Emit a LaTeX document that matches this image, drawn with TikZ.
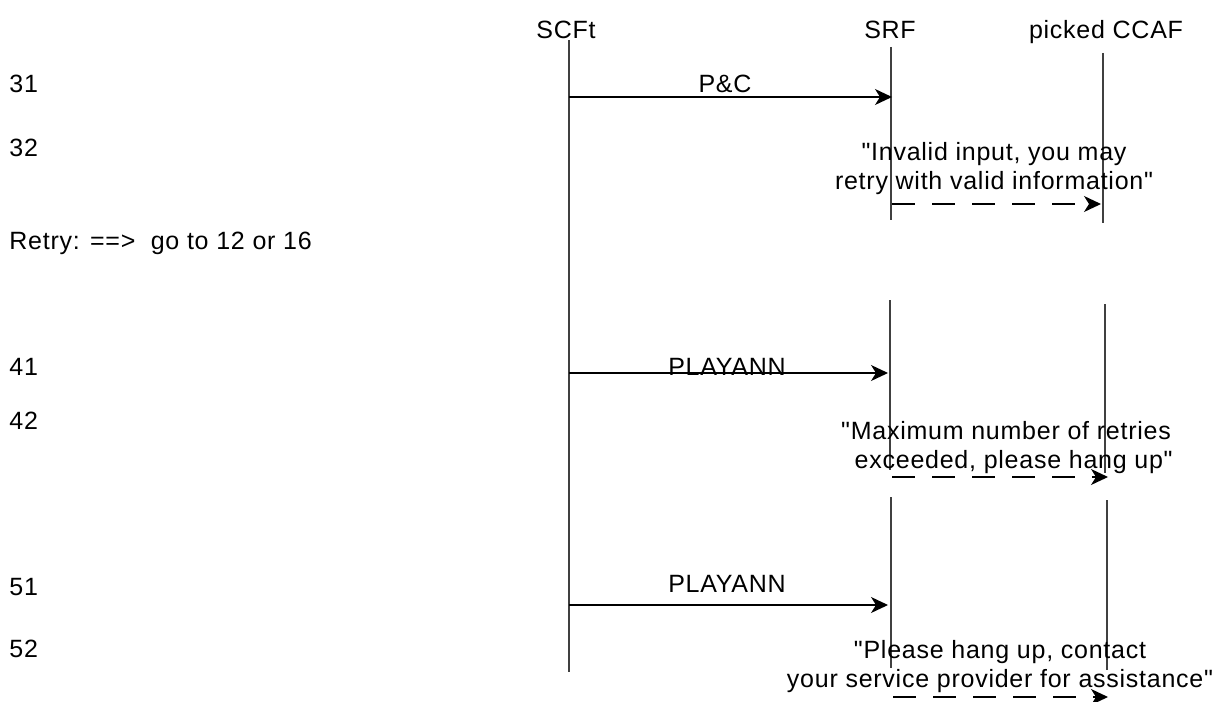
\documentclass[tikz,border=0pt]{standalone}
\usepackage{fontspec}
\newfontfamily\diafont{Liberation Sans}[LetterSpace=3]
\usetikzlibrary{arrows.meta}

\newcommand{\dq}{\symbol{34}}

\begin{document}
\begin{tikzpicture}[
  x=0.5pt, y=-0.5pt,
  font=\diafont\fontsize{12.5}{14.5}\selectfont,
  head/.style={inner sep=0pt, anchor=base},
  rowlbl/.style={inner sep=0pt, anchor=base west},
  msg/.style={inner sep=0pt, anchor=base, align=center},
  life/.style={line width=0.6pt, black!75},
  call/.style={-{Stealth[length=8.5pt, width=8pt, inset=2.5pt]}, line width=0.6pt},
  tone/.style={call, dash pattern=on 11.5pt off 8.5pt}
]
\useasboundingbox (0,0) rectangle (1220,701);

\node[head] (hscft) at (566, 39) {SCFt};
\node[head] (hsrf)  at (890, 39) {SRF};
\node[head] (hccaf) at (1106, 39) {picked CCAF};

\node[rowlbl] (r31) at (9, 93) {31};
\node[rowlbl] (r32) at (9, 156) {32};
\node[rowlbl] (rretry) at (9, 249) {Retry: ==>\ \ go to 12 or 16};
\node[rowlbl] (r41) at (9, 375) {41};
\node[rowlbl] (r42) at (9, 429) {42};
\node[rowlbl] (r51) at (9, 595) {51};
\node[rowlbl] (r52) at (9, 657) {52};

\coordinate (scfttop) at (569, 40);
\coordinate (scftbot) at (569, 672);
\coordinate (srfa) at (891, 47);
\coordinate (srfb) at (891, 220);
\coordinate (ccafa) at (1103, 53);
\coordinate (ccafb) at (1103, 223);
\coordinate (srfc) at (890, 300);
\coordinate (srfd) at (890, 470);
\coordinate (ccafc) at (1105, 304);
\coordinate (ccafd) at (1105, 473);
\coordinate (srfe) at (891, 497);
\coordinate (srff) at (891, 668);
\coordinate (ccafe) at (1107, 500);
\coordinate (ccaff) at (1107, 670);

\draw[life] (scfttop) -- (scftbot);
\draw[life] (srfa) -- (srfb);
\draw[life] (ccafa) -- (ccafb);
\draw[life] (srfc) -- (srfd);
\draw[life] (ccafc) -- (ccafd);
\draw[life] (srfe) -- (srff);
\draw[life] (ccafe) -- (ccaff);

\coordinate (m31s) at (569, 97);
\coordinate (m31e) at (892, 97);
\coordinate (m32s) at (892, 204);
\coordinate (m32e) at (1101, 204);
\coordinate (m41s) at (569, 373);
\coordinate (m41e) at (888, 373);
\coordinate (m42s) at (892, 477);
\coordinate (m42e) at (1108, 477);
\coordinate (m51s) at (569, 605);
\coordinate (m51e) at (888, 605);
\coordinate (m52s) at (893, 697);
\coordinate (m52e) at (1108, 697);

\draw[call] (m31s) -- (m31e);
\draw[tone] (m32s) -- (m32e);
\draw[call] (m41s) -- (m41e);
\draw[tone] (m42s) -- (m42e);
\draw[call] (m51s) -- (m51e);
\draw[tone] (m52s) -- (m52e);

\node[head] (l31) at (725, 93) {P\&C};
\node[msg] (l32) at (994, 189) {\dq Invalid input, you may\\retry with valid information\dq};
\node[head] (l41) at (727, 375) {PLAYANN};
\node[msg] (l42) at (1006, 468) {\dq Maximum number of retries\\\ \ exceeded, please hang up\dq};
\node[head] (l51) at (727, 592) {PLAYANN};
\node[msg] (l52) at (1000, 687) {\dq Please hang up, contact\\your service provider for assistance\dq};
\end{tikzpicture}
\end{document}
